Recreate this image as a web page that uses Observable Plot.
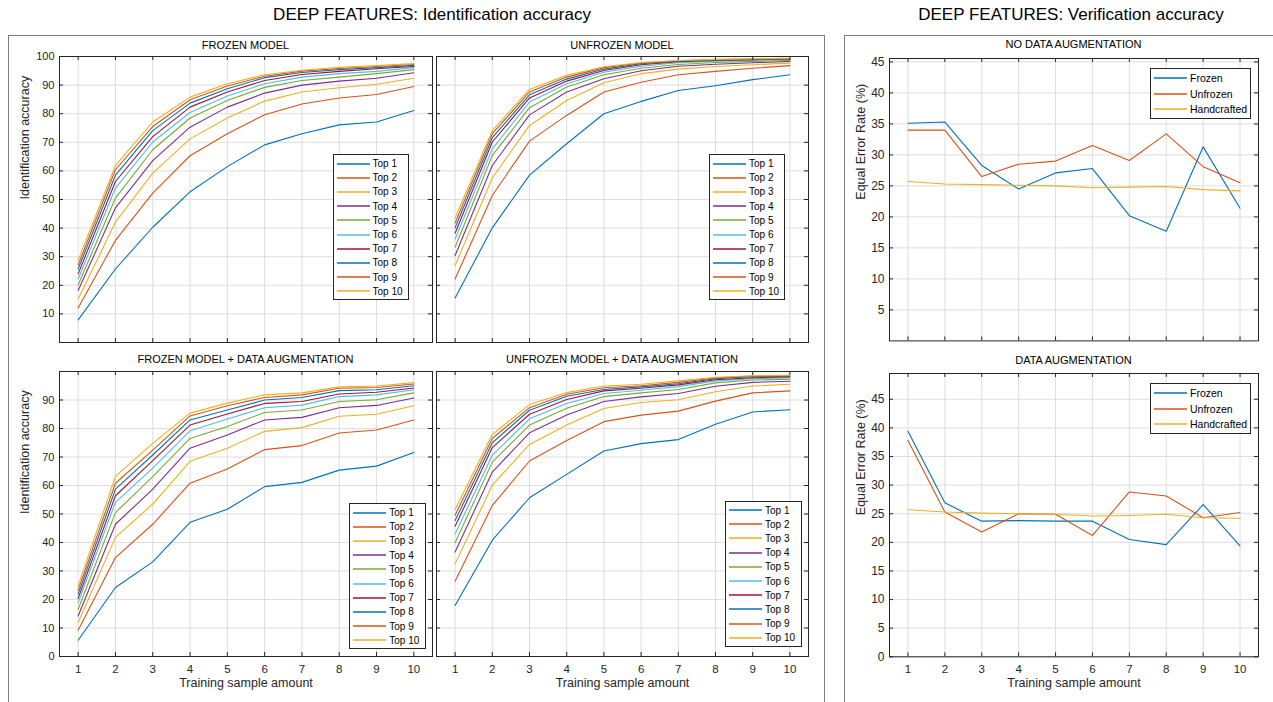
<!DOCTYPE html>
<html><head><meta charset="utf-8">
<script src="https://cdn.jsdelivr.net/npm/d3@7"></script>
<script src="https://cdn.jsdelivr.net/npm/@observablehq/plot@0.6"></script>
<style>
body{margin:0;background:#fff;font-family:Arial,"Liberation Sans",sans-serif;}
#root{position:relative;width:1273px;height:702px;overflow:hidden;background:#fff;}
.box{position:absolute;border:1.5px solid #7d7d7d;box-sizing:border-box;}
.ttl{position:absolute;white-space:nowrap;transform:translateX(-50%);color:#000;line-height:1;}
.legend{position:absolute;border:1px solid #262626;background:#fff;box-sizing:border-box;}
.legend .row{display:flex;align-items:center;white-space:nowrap;color:#000;}
.legend svg{display:block;margin-right:3px;flex:none;}
.panel{position:absolute;}
.panel svg{overflow:visible;}
</style></head>
<body><div id="root"></div>
<script>
// ---------- data ----------
const trainingSamples = [1,2,3,4,5,6,7,8,9,10];
const topNames = ["Top 1","Top 2","Top 3","Top 4","Top 5","Top 6","Top 7","Top 8","Top 9","Top 10"];
const topColors = ["#0072BD","#D95319","#EDB120","#7E2F8E","#77AC30","#4DBEEE","#A2142F","#0072BD","#D95319","#EDB120"];
const idTicksTop = [10,20,30,40,50,60,70,80,90,100];
const idTicksBottom = [0,10,20,30,40,50,60,70,80,90];

const frozenModel = [
  [7.9, 25.7, 40.3, 52.7, 61.5, 69.1, 73.0, 76.1, 77.1, 81.1],
  [12.1, 35.7, 52.2, 65.3, 73.0, 79.6, 83.4, 85.5, 86.7, 89.5],
  [15.2, 42.1, 59.2, 71.2, 78.5, 84.4, 87.6, 89.1, 90.3, 92.4],
  [18.2, 47.1, 63.6, 75.3, 82.3, 87.2, 90.0, 91.4, 92.4, 94.3],
  [20.1, 50.5, 67.4, 78.5, 84.6, 89.2, 91.6, 92.8, 94.0, 95.4],
  [22.2, 54.0, 70.1, 80.4, 86.2, 90.5, 92.8, 94.0, 94.8, 96.1],
  [24.0, 56.3, 72.0, 82.3, 87.6, 91.6, 93.7, 94.8, 95.7, 96.5],
  [25.7, 58.5, 74.1, 83.7, 88.7, 92.6, 94.4, 95.4, 96.1, 96.9],
  [27.1, 60.4, 75.5, 84.9, 89.7, 93.1, 94.9, 95.8, 96.5, 97.2],
  [28.7, 61.9, 77.1, 85.8, 90.5, 93.6, 95.2, 96.2, 96.8, 97.5]
];
const unfrozenModel = [
  [15.6, 40.1, 58.5, 69.5, 80.0, 84.3, 88.1, 89.8, 91.9, 93.6],
  [22.2, 51.4, 70.4, 79.4, 87.6, 91.0, 93.6, 94.8, 95.9, 96.8],
  [26.9, 57.5, 75.9, 84.6, 90.8, 94.0, 95.6, 96.5, 97.1, 97.7],
  [30.4, 61.9, 79.6, 87.6, 92.2, 95.0, 96.6, 97.3, 97.8, 98.3],
  [33.3, 65.4, 82.1, 89.3, 93.6, 95.9, 97.2, 97.9, 98.3, 98.6],
  [36.2, 67.7, 84.1, 90.5, 94.5, 96.6, 97.8, 98.4, 98.6, 98.9],
  [38.2, 70.1, 85.5, 91.4, 95.1, 97.1, 98.2, 98.6, 98.9, 99.1],
  [40.1, 71.6, 86.6, 92.1, 95.6, 97.5, 98.3, 98.7, 99.0, 99.2],
  [41.8, 73.0, 87.6, 92.8, 96.1, 97.7, 98.5, 98.9, 99.1, 99.3],
  [43.5, 74.1, 88.5, 93.4, 96.4, 97.9, 98.6, 99.0, 99.2, 99.4]
];
const frozenModelAug = [
  [5.7, 24.2, 33.2, 47.1, 51.7, 59.6, 61.1, 65.4, 66.8, 71.6],
  [9.2, 34.7, 46.4, 60.8, 65.8, 72.6, 74.0, 78.4, 79.5, 83.0],
  [11.9, 41.8, 53.5, 68.5, 73.1, 79.0, 80.3, 84.3, 85.0, 88.0],
  [14.2, 46.4, 58.7, 73.1, 77.7, 83.0, 83.9, 87.3, 88.1, 90.7],
  [16.6, 50.5, 63.1, 76.5, 80.7, 85.6, 86.5, 89.5, 90.1, 92.5],
  [18.9, 54.1, 66.1, 79.2, 83.3, 87.3, 88.2, 91.2, 91.8, 93.6],
  [20.4, 56.4, 68.7, 81.2, 85.1, 88.8, 89.5, 92.1, 92.7, 94.2],
  [21.9, 58.7, 70.7, 83.0, 86.5, 90.0, 90.9, 93.3, 93.6, 95.0],
  [23.3, 60.8, 72.4, 84.4, 88.0, 90.9, 91.8, 94.1, 94.4, 95.6],
  [24.8, 63.2, 74.8, 85.4, 88.9, 91.8, 92.5, 94.6, 94.9, 96.1]
];
const unfrozenModelAug = [
  [17.9, 40.8, 55.7, 63.9, 72.1, 74.7, 76.1, 81.5, 85.8, 86.6],
  [26.4, 53.0, 68.6, 75.8, 82.4, 84.7, 86.1, 89.6, 92.5, 93.2],
  [32.5, 60.1, 74.4, 81.2, 87.0, 89.1, 90.1, 92.9, 94.9, 95.5],
  [36.7, 64.7, 78.5, 84.7, 89.5, 91.1, 92.3, 94.8, 96.2, 96.6],
  [39.9, 68.2, 81.2, 87.1, 91.2, 92.5, 93.7, 96.0, 97.0, 97.3],
  [43.0, 70.6, 83.4, 88.8, 92.3, 93.4, 94.7, 96.7, 97.5, 97.7],
  [45.7, 73.3, 85.0, 90.2, 93.2, 94.1, 95.3, 97.1, 97.8, 98.1],
  [47.7, 75.0, 86.4, 91.3, 93.7, 94.6, 95.7, 97.5, 98.2, 98.3],
  [49.6, 76.5, 87.3, 92.0, 94.3, 95.0, 96.2, 97.7, 98.4, 98.5],
  [51.6, 77.9, 88.4, 92.6, 94.9, 95.5, 96.7, 98.0, 98.5, 98.7]
];

const eerNames = ["Frozen","Unfrozen","Handcrafted"];
const eerColors = ["#0072BD","#D95319","#EDB120"];
const eerTicksTop = [5,10,15,20,25,30,35,40,45];
const eerTicksBottom = [0,5,10,15,20,25,30,35,40,45];
const eerNoAugFrozen      = [35.1, 35.3, 28.3, 24.5, 27.1, 27.8, 20.2, 17.7, 31.3, 21.4];
const eerNoAugUnfrozen    = [34.0, 34.0, 26.5, 28.5, 29.0, 31.5, 29.1, 33.4, 28.1, 25.5];
const eerNoAugHandcrafted = [25.7, 25.3, 25.2, 25.1, 25.0, 24.7, 24.8, 24.9, 24.4, 24.2];
const eerAugFrozen        = [39.4, 26.9, 23.7, 23.8, 23.7, 23.7, 20.5, 19.6, 26.6, 19.4];
const eerAugUnfrozen      = [37.8, 25.3, 21.8, 25.0, 24.9, 21.2, 28.8, 28.1, 24.3, 25.2];
const eerAugHandcrafted   = [25.7, 25.3, 25.1, 25.0, 24.9, 24.6, 24.7, 24.9, 24.3, 24.2];

// ---------- helpers ----------
const root = document.getElementById("root");
const FONT = "Arial, 'Liberation Sans', sans-serif";

function addDiv(cls, css, html) {
  const d = document.createElement("div");
  d.className = cls;
  Object.assign(d.style, css);
  if (html != null) d.innerHTML = html;
  root.appendChild(d);
  return d;
}

function panel({x0, x1, y0, y1, yDomain, yTicks, showX, showY, yLabel, yLabelDx, names, colors, rows, tickFont, yTickFont}) {
  const mL = 60, mR = 8, mT = 8, mB = showX ? 45 : 8;
  const pw = x1 - x0, ph = y1 - y0;
  const data = rows.flatMap((vals, i) => vals.map((v, j) => ({x: trainingSamples[j], y: v, s: names[i]})));
  const marks = [
    Plot.gridX(trainingSamples, {stroke: "#dedede", strokeOpacity: 1}),
    Plot.gridY(yTicks, {stroke: "#dedede", strokeOpacity: 1}),
    Plot.lineY(data, {x: "x", y: "y", z: "s", stroke: "s", strokeWidth: 1.1}),
    Plot.tickY(yTicks, {y: d => d, stroke: "#262626", insetRight: pw - 4}),
    Plot.tickY(yTicks, {y: d => d, stroke: "#262626", insetLeft: pw - 4}),
    Plot.tickX(trainingSamples, {x: d => d, stroke: "#262626", insetTop: ph - 4}),
    Plot.tickX(trainingSamples, {x: d => d, stroke: "#262626", insetBottom: ph - 4}),
    Plot.frame({stroke: "#262626"})
  ];
  if (showY) {
    marks.push(Plot.axisY(yTicks, {anchor: "left", tickSize: 0, tickPadding: 5, label: null, fontSize: yTickFont, fill: "#262626"}));
    marks.push(Plot.text([yLabel], {frameAnchor: "left", text: d => d, rotate: -90, dx: yLabelDx, fontSize: 12.5, fill: "#262626"}));
  }
  if (showX) {
    marks.push(Plot.axisX(trainingSamples, {anchor: "bottom", tickSize: 0, tickPadding: 8, label: null, fontSize: tickFont, fill: "#262626"}));
    marks.push(Plot.text(["Training sample amount"], {frameAnchor: "bottom", text: d => d, dy: 30, fontSize: 12.5, fill: "#262626"}));
  }
  const chart = Plot.plot({
    width: pw + mL + mR, height: ph + mT + mB,
    marginLeft: mL, marginRight: mR, marginTop: mT, marginBottom: mB,
    x: {domain: [0.5, 10.5], axis: null},
    y: {domain: yDomain, axis: null},
    color: {domain: names, range: colors},
    style: {fontFamily: FONT, fontSize: tickFont + "px", color: "#262626", background: "transparent", overflow: "visible"},
    marks
  });
  const holder = addDiv("panel", {left: (x0 - mL) + "px", top: (y0 - mT) + "px"});
  holder.appendChild(chart);
}

function legend({left, top, width, names, colors, rowH, fontSize, swatch}) {
  const rowsHtml = names.map((n, i) =>
    `<div class="row" style="height:${rowH}px;font-size:${fontSize}px;padding-left:3px">` +
    `<svg width="${swatch}" height="4"><line x1="0" x2="${swatch}" y1="2" y2="2" stroke="${colors[i]}" stroke-width="1.4"/></svg>${n}</div>`).join("");
  addDiv("legend", {left: left + "px", top: top + "px", width: width + "px", height: (names.length * rowH + 4) + "px", paddingTop: "1.5px"}, rowsHtml);
}

// ---------- frames and titles ----------
addDiv("box", {left: "8px", top: "35px", width: "817px", height: "700px"});
addDiv("box", {left: "844px", top: "35px", width: "460px", height: "700px"});
addDiv("ttl", {left: "432px", top: "6px", fontSize: "17px"}, "DEEP FEATURES: Identification accuracy");
addDiv("ttl", {left: "1071px", top: "6px", fontSize: "17px"}, "DEEP FEATURES: Verification accuracy");
addDiv("ttl", {left: "245.5px", top: "39.5px", fontSize: "11px"}, "FROZEN MODEL");
addDiv("ttl", {left: "622px", top: "39.5px", fontSize: "11px"}, "UNFROZEN MODEL");
addDiv("ttl", {left: "245.5px", top: "353.5px", fontSize: "11px"}, "FROZEN MODEL + DATA AUGMENTATION");
addDiv("ttl", {left: "622px", top: "353.5px", fontSize: "11px"}, "UNFROZEN MODEL + DATA AUGMENTATION");
addDiv("ttl", {left: "1073.5px", top: "38.5px", fontSize: "11px"}, "NO DATA AUGMENTATION");
addDiv("ttl", {left: "1073.5px", top: "355px", fontSize: "11px"}, "DATA AUGMENTATION");

// ---------- panels ----------
panel({x0: 59, x1: 432, y0: 56, y1: 342, yDomain: [0, 100], yTicks: idTicksTop, showX: false, showY: true,
  yLabel: "Identification accuracy", yLabelDx: -35, names: topNames, colors: topColors, rows: frozenModel, tickFont: 11.5, yTickFont: 11});
panel({x0: 436, x1: 808, y0: 56, y1: 342, yDomain: [0, 100], yTicks: idTicksTop, showX: false, showY: false,
  yLabel: "", yLabelDx: -35, names: topNames, colors: topColors, rows: unfrozenModel, tickFont: 11.5, yTickFont: 11});
panel({x0: 59, x1: 432, y0: 370.5, y1: 655.5, yDomain: [0, 100], yTicks: idTicksBottom, showX: true, showY: true,
  yLabel: "Identification accuracy", yLabelDx: -35, names: topNames, colors: topColors, rows: frozenModelAug, tickFont: 11.5, yTickFont: 11});
panel({x0: 436, x1: 808, y0: 370.5, y1: 655.5, yDomain: [0, 100], yTicks: idTicksBottom, showX: true, showY: false,
  yLabel: "", yLabelDx: -35, names: topNames, colors: topColors, rows: unfrozenModelAug, tickFont: 11.5, yTickFont: 11});
panel({x0: 889, x1: 1258, y0: 58.3, y1: 340.7, yDomain: [0, 45.55], yTicks: eerTicksTop, showX: false, showY: true,
  yLabel: "Equal Error Rate (%)", yLabelDx: -29, names: eerNames, colors: eerColors,
  rows: [eerNoAugFrozen, eerNoAugUnfrozen, eerNoAugHandcrafted], tickFont: 11.5, yTickFont: 12});
panel({x0: 889, x1: 1258, y0: 372.7, y1: 656, yDomain: [0, 49.5], yTicks: eerTicksBottom, showX: true, showY: true,
  yLabel: "Equal Error Rate (%)", yLabelDx: -29, names: eerNames, colors: eerColors,
  rows: [eerAugFrozen, eerAugUnfrozen, eerAugHandcrafted], tickFont: 11.5, yTickFont: 12});

// ---------- legends ----------
legend({left: 332.5, top: 154, width: 76, names: topNames, colors: topColors, rowH: 14.2, fontSize: 10, swatch: 33});
legend({left: 709, top: 154, width: 76, names: topNames, colors: topColors, rowH: 14.2, fontSize: 10, swatch: 33});
legend({left: 349.3, top: 503, width: 76.4, names: topNames, colors: topColors, rowH: 14.2, fontSize: 10, swatch: 33});
legend({left: 725, top: 500.5, width: 76.7, names: topNames, colors: topColors, rowH: 14.2, fontSize: 10, swatch: 33});
legend({left: 1150, top: 67.5, width: 100.7, names: eerNames, colors: eerColors, rowH: 15.7, fontSize: 10.5, swatch: 33});
legend({left: 1150, top: 383, width: 100.7, names: eerNames, colors: eerColors, rowH: 15.6, fontSize: 10.5, swatch: 33});
</script>
</body></html>
